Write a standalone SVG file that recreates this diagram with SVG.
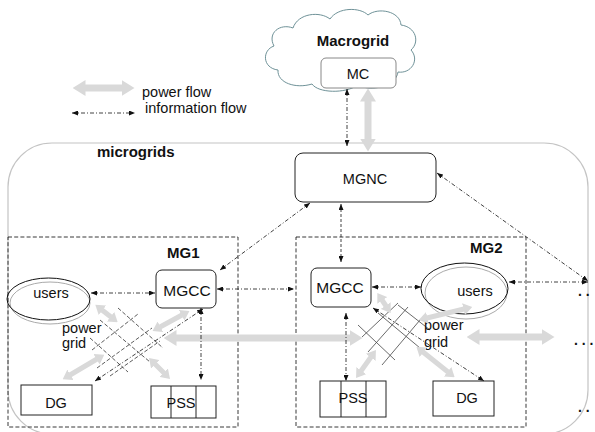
<svg xmlns="http://www.w3.org/2000/svg" width="595" height="432" viewBox="0 0 595 432">
  <style>
    text { font-family: "Liberation Sans", Arial, sans-serif; fill: #111; }
    .t { font-size: 14.5px; }
    .b { font-size: 15px; font-weight: bold; }
    .box { fill: #fff; stroke: #222; stroke-width: 1; }
    .zone { fill: none; stroke: #222; stroke-width: 0.9; stroke-dasharray: 4 2.2; }
    .pw { stroke: #d9d9d9; stroke-width: 7; fill: none; marker-start: url(#ph); marker-end: url(#ph); }
    .pws { stroke: #d9d9d9; stroke-width: 5; fill: none; marker-start: url(#phs); marker-end: url(#phs); }
    .inf { stroke: #111; stroke-width: 0.8; fill: none; stroke-dasharray: 4 2 1 2; marker-start: url(#ih); marker-end: url(#ih); }
    .dsh { stroke-dasharray: 3 2; }
    .g1 { stroke: #333; stroke-width: 0.8; stroke-dasharray: 4 2; fill: none; }
    .g2 { stroke: #444; stroke-width: 0.8; fill: none; }
    .dots { font-size: 14px; font-weight: bold; }
  </style>
  <defs>
    <marker id="ph" markerUnits="userSpaceOnUse" markerWidth="13" markerHeight="16" viewBox="0 0 13 16" refX="0.5" refY="8" orient="auto-start-reverse">
      <path d="M0,0 L13,8 L0,16 Z" fill="#d9d9d9"/>
    </marker>
    <marker id="phs" markerUnits="userSpaceOnUse" markerWidth="9" markerHeight="12" viewBox="0 0 9 12" refX="0.5" refY="6" orient="auto-start-reverse">
      <path d="M0,0 L9,6 L0,12 Z" fill="#d9d9d9"/>
    </marker>
    <marker id="ih" markerUnits="userSpaceOnUse" markerWidth="6" markerHeight="5" viewBox="0 0 6 5" refX="6" refY="2.5" orient="auto-start-reverse">
      <path d="M0,0 L6,2.5 L0,5 Z" fill="#111"/>
    </marker>
  </defs>

  <!-- legend -->
  <g id="legend">
    <line class="pw" x1="85" y1="88" x2="122" y2="88"/>
    <text class="t" x="142" y="97">power flow</text>
    <line class="inf" x1="72" y1="113" x2="135" y2="113"/>
    <text class="t" x="145" y="112.5">information flow</text>
  </g>

  <!-- macrogrid cloud -->
  <g id="macrogrid">
    <path d="M278,70 C262,68 262,50 274,46 C267,33 280,23 293,28 C298,13 320,11 330,19 C338,7 360,7 368,15 C378,7 400,11 401,25 C416,27 420,42 411,50 C420,60 411,74 398,72 C396,87 370,92 358,85 C345,94 318,93 312,84 C296,89 277,83 278,70 Z" fill="#fff" stroke="#6f9298" stroke-width="1"/>
    <text class="b" x="353" y="46" text-anchor="middle">Macrogrid</text>
  </g>
  <g id="mc">
    <rect x="321" y="58" width="75" height="30" rx="5" fill="#fff" stroke="#888" stroke-width="1"/>
    <text class="t" x="358" y="79" text-anchor="middle">MC</text>
  </g>

  <!-- microgrid network boundary -->
  <g id="microgrids">
    <rect x="8" y="143" width="580" height="291" rx="44" fill="none" stroke="#c4c4c4" stroke-width="1.2"/>
    <text class="b" x="97" y="157">microgrids</text>
  </g>

  <g id="mgnc">
    <rect class="box" x="295" y="153" width="141" height="49" rx="8"/>
    <text class="t" x="365" y="184" text-anchor="middle">MGNC</text>
  </g>

  <!-- MG1 -->
  <g id="mg1">
    <rect class="zone" x="8" y="237" width="230" height="190"/>
    <text class="b" x="167" y="258">MG1</text>
  </g>
  <g id="mg1-grid">
    <line class="g1" x1="118" y1="308" x2="163" y2="348"/>
    <line class="g1" x1="100" y1="320" x2="150" y2="362"/>
    <line class="g1" x1="90" y1="338" x2="128" y2="372"/>
    <line class="g1" x1="92" y1="350" x2="138" y2="314"/>
    <line class="g1" x1="97" y1="368" x2="152" y2="328"/>
    <line class="g1" x1="110" y1="376" x2="160" y2="341"/>
    <text class="t" x="62" y="333">power</text>
    <text class="t" x="62" y="348">grid</text>
  </g>
  <g id="mg1-users">
    <ellipse cx="50" cy="303" rx="40" ry="21" fill="none" stroke="#aaa" stroke-width="1"/>
    <ellipse cx="48.5" cy="299" rx="41.5" ry="21" fill="none" stroke="#111" stroke-width="1"/>
    <text class="t" x="51" y="298" text-anchor="middle">users</text>
  </g>
  <g id="mg1-mgcc">
    <rect class="box" x="156" y="270" width="60" height="38" rx="6"/>
    <text x="187" y="295.5" text-anchor="middle" font-size="15.5">MGCC</text>
  </g>
  <g id="mg1-dg">
    <rect class="box" x="21" y="385" width="71" height="30"/>
    <text class="t" x="56" y="408" text-anchor="middle">DG</text>
  </g>
  <g id="mg1-pss">
    <rect class="box" x="151" y="386" width="65" height="32" stroke-width="1.3"/>
    <line x1="171" y1="386" x2="171" y2="418" stroke="#222"/>
    <line x1="196" y1="386" x2="196" y2="418" stroke="#222"/>
    <text class="t" x="181" y="408" text-anchor="middle">PSS</text>
  </g>

  <!-- MG2 -->
  <g id="mg2">
    <rect class="zone" x="296" y="237" width="230" height="190"/>
    <text class="b" x="470" y="253">MG2</text>
  </g>
  <g id="mg2-grid">
    <line class="g2" x1="358" y1="325" x2="395" y2="360"/>
    <line class="g2" x1="378" y1="313" x2="420" y2="348"/>
    <line class="g2" x1="398" y1="305" x2="430" y2="330"/>
    <line class="g2" x1="362" y1="337" x2="398" y2="303"/>
    <line class="g2" x1="368" y1="352" x2="408" y2="307"/>
    <line class="g2" x1="382" y1="365" x2="420" y2="320"/>
    <text class="t" x="424" y="330">power</text>
    <text class="t" x="424" y="347">grid</text>
  </g>
  <g id="mg2-users">
    <ellipse cx="466" cy="293" rx="41" ry="26" fill="none" stroke="#aaa" stroke-width="1"/>
    <ellipse cx="464.5" cy="288.5" rx="43.5" ry="25.5" fill="none" stroke="#111" stroke-width="1"/>
    <text class="t" x="475" y="296" text-anchor="middle">users</text>
  </g>
  <g id="mg2-mgcc">
    <rect class="box" x="311" y="268" width="60" height="39" rx="6"/>
    <text x="340" y="293" text-anchor="middle" font-size="15.5">MGCC</text>
  </g>
  <g id="mg2-pss">
    <rect class="box" x="320" y="381" width="66" height="36" stroke-width="1.3"/>
    <line x1="341" y1="381" x2="341" y2="417" stroke="#222"/>
    <line x1="366" y1="381" x2="366" y2="417" stroke="#222"/>
    <text class="t" x="353" y="403" text-anchor="middle">PSS</text>
  </g>
  <g id="mg2-dg">
    <rect class="box" x="433" y="381" width="61" height="35"/>
    <text class="t" x="467" y="403" text-anchor="middle">DG</text>
  </g>

  <!-- continuation marks -->
  <g id="more">
    <text class="dots" x="578" y="296">. .</text>
    <text class="dots" x="574" y="345">. . .</text>
    <text class="dots" x="578" y="412">. .</text>
  </g>

  <!-- power flow connectors -->
  <g id="power-flow">
    <line class="pw" x1="368" y1="101" x2="368" y2="139"/>
    <line class="pw" x1="176" y1="338" x2="350" y2="338"/>
    <line class="pw" x1="479" y1="337" x2="542" y2="337"/>
    <line class="pws" x1="102" y1="310" x2="111" y2="317"/>
    <line class="pws" x1="182" y1="315" x2="160" y2="327"/>
    <line class="pws" x1="70" y1="375" x2="97" y2="359"/>
    <line class="pws" x1="155" y1="364" x2="164" y2="373"/>
    <line class="pws" x1="382" y1="300" x2="386" y2="306"/>
    <line class="pws" x1="427" y1="318" x2="464" y2="309"/>
    <line class="pws" x1="361" y1="371" x2="371" y2="357"/>
    <line class="pws" x1="423" y1="352" x2="448" y2="372"/>
  </g>

  <!-- information flow connectors -->
  <g id="info-flow">
    <line class="inf" x1="347" y1="89" x2="347" y2="146"/>
    <line class="inf" x1="310" y1="203" x2="220" y2="270"/>
    <line class="inf dsh" x1="341" y1="204" x2="341" y2="262"/>
    <line class="inf" x1="437" y1="173" x2="588" y2="281"/>
    <line class="inf" x1="509" y1="282" x2="588" y2="282"/>
    <line class="inf" x1="217" y1="289" x2="294" y2="289"/>
    <line class="inf" x1="91" y1="293" x2="155" y2="293"/>
    <line class="inf" x1="201" y1="308" x2="201" y2="380"/>
    <line class="inf" x1="203" y1="309" x2="95" y2="381"/>
    <line class="inf" x1="346" y1="313" x2="346" y2="381"/>
    <line class="inf" x1="373" y1="308" x2="484" y2="381"/>
    <line class="inf" x1="372" y1="287" x2="421" y2="287"/>
  </g>
</svg>
